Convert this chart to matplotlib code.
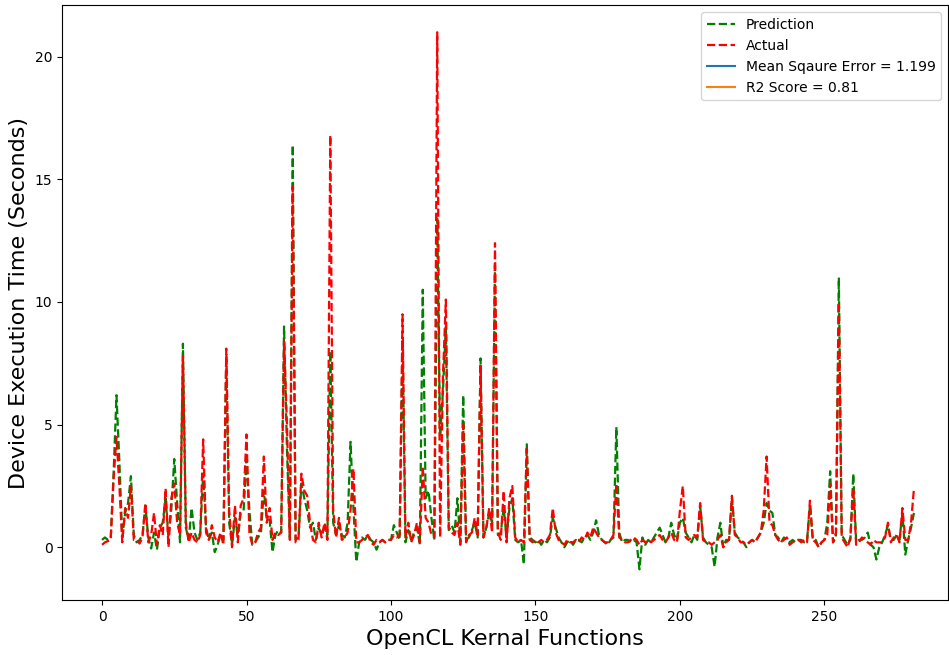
import numpy as np
import matplotlib
matplotlib.use("Agg")
import matplotlib.pyplot as plt


# measured device execution time per kernel (seconds)
actual = [
    0.1, 0.2, 0.25, 0.3, 2.8, 4.5, 2.5, 0.2, 1.6, 1.2,
    2.5, 0.3, 0.3, 0.15, 0.4, 1.8, 0.2, 0.5, 1.4, 0.1,
    0.9, 0.5, 2.4, 0.0, 2.0, 2.6, 1.0, 0.5, 7.8, 1.0,
    0.2, 0.6, 0.3, 0.2, 0.5, 4.4, 0.6, 0.3, 0.9, 0.4,
    0.2, 0.6, 0.1, 8.1, 1.5, 0.0, 1.7, 0.2, 1.7, 2.0,
    4.6, 0.6, 0.1, 0.2, 0.6, 0.8, 3.7, 1.0, 1.6, 0.3,
    0.6, 0.5, 0.6, 8.4, 5.0, 0.3, 14.7, 0.2, 0.3, 3.0,
    2.3, 2.1, 1.0, 0.3, 0.2, 1.0, 0.4, 1.0, 0.3, 16.8,
    1.5, 0.4, 1.2, 0.3, 0.4, 0.6, 1.5, 3.2, 0.2, 0.2,
    0.3, 0.4, 0.5, 0.2, 0.1, 0.3, 0.2, 0.3, 0.2, 0.3,
    0.3, 0.5, 0.4, 0.5, 9.5, 0.4, 1.0, 0.2, 0.5, 1.0,
    0.2, 3.3, 1.2, 1.0, 0.5, 0.4, 21.0, 0.4, 7.0, 10.1,
    0.8, 0.6, 0.5, 1.0, 0.1, 5.0, 0.2, 0.5, 0.6, 1.2,
    0.5, 7.4, 0.4, 0.8, 1.6, 0.6, 12.4, 0.6, 0.3, 2.3,
    0.2, 2.0, 2.5, 0.4, 0.2, 0.3, 0.2, 4.0, 0.3, 0.2,
    0.3, 0.2, 0.3, 0.2, 0.3, 0.5, 1.6, 0.6, 0.3, 0.2,
    0.1, 0.3, 0.2, 0.2, 0.3, 0.2, 0.4, 0.3, 0.6, 0.4,
    0.8, 0.6, 0.4, 0.3, 0.2, 0.2, 0.3, 0.5, 2.6, 0.4,
    0.3, 0.2, 0.2, 0.3, 0.4, 0.3, 0.1, 0.3, 0.2, 0.3,
    0.2, 0.3, 0.4, 0.5, 0.3, 0.2, 0.4, 0.6, 0.3, 0.2,
    1.5, 2.5, 0.4, 0.3, 0.4, 0.5, 0.4, 1.8, 0.3, 0.2,
    0.2, 0.1, 0.2, 0.3, 0.5, 0.0, 0.2, 0.3, 2.1, 0.5,
    0.4, 0.2, 0.2, 0.1, 0.2, 0.3, 0.2, 0.4, 0.6, 1.5,
    3.7, 1.0, 0.9, 0.5, 0.3, 0.2, 0.3, 0.4, 0.1, 0.2,
    0.3, 0.3, 0.2, 0.3, 0.2, 1.9, 0.3, 0.2, 0.0, 0.2,
    0.3, 0.5, 2.6, 0.2, 0.6, 10.0, 0.4, 0.2, 0.0, 0.4,
    2.4, 0.1, 0.2, 0.4, 0.3, 0.2, 0.1, 0.3, 0.2, 0.2,
    0.2, 0.4, 1.0, 0.2, 0.4, 0.5, 0.2, 1.6, 0.3, 0.3,
    1.0, 2.4,
]

# model prediction for the same kernels
prediction = [
    0.3, 0.4, 0.3, 0.35, 3.0, 6.2, 3.5, 0.4, 1.4, 1.8,
    2.9, 0.5, 0.2, 0.3, 0.5, 1.7, 0.4, -0.05, 0.6, -0.1,
    0.8, 1.0, 2.0, 0.4, 1.6, 3.6, 1.8, 0.2, 8.3, 0.8,
    0.3, 1.6, 0.6, 0.3, 0.6, 3.0, 0.8, 0.3, 0.6, -0.2,
    0.1, 0.5, 0.3, 7.8, 1.0, 0.1, 1.2, 0.5, 1.4, 1.5,
    3.6, 1.5, 0.1, 0.2, 0.4, 0.6, 2.3, 1.2, 1.1, -0.2,
    0.5, 0.7, 0.6, 9.0, 4.0, 0.4, 16.4, 0.3, 0.4, 2.6,
    2.0, 1.5, 0.8, 1.0, 0.3, 0.8, 0.5, 0.8, 0.5, 8.0,
    1.0, 0.5, 0.9, 0.5, 0.4, 1.0, 4.3, 1.6, -0.6, 0.2,
    0.4, 0.3, 0.5, 0.3, 0.2, -0.1, 0.2, 0.3, 0.2, 0.3,
    0.3, 0.9, 0.6, 0.3, 8.5, 0.2, 0.7, 0.3, 0.6, 0.8,
    0.1, 10.5, 2.0, 2.3, 1.2, 0.3, 13.4, 4.5, 6.4, 9.0,
    0.7, 0.9, 0.6, 2.0, 0.2, 6.2, 0.3, 0.4, 0.7, 1.0,
    0.4, 7.7, 0.4, 0.8, 1.4, 1.0, 11.5, 0.5, 0.6, 1.6,
    0.4, 1.6, 2.0, 0.3, 0.2, 0.3, -0.7, 4.2, 0.4, 0.3,
    0.2, 0.3, 0.1, 0.3, 0.2, 0.4, 1.2, 0.8, 0.4, 0.2,
    0.0, 0.2, 0.3, 0.1, 0.3, 0.3, 0.2, 0.4, 0.5, 0.3,
    0.6, 1.1, 0.5, 0.3, 0.2, 0.1, 0.3, 0.4, 4.9, 0.6,
    0.2, 0.3, 0.3, 0.2, 0.3, 0.2, -0.9, 0.4, 0.1, 0.3,
    0.2, 0.4, 0.6, 0.8, 0.5, 0.2, 0.4, 1.0, 0.5, 0.3,
    1.0, 1.2, 0.6, 0.4, 0.2, 0.5, 0.3, 1.7, 0.4, 0.2,
    0.1, 0.0, -0.8, 0.4, 1.0, 0.0, 0.3, 0.3, 2.0, 0.6,
    0.4, 0.3, 0.2, 0.0, 0.2, 0.3, 0.2, 0.4, 0.6, 1.0,
    1.8, 1.5, 1.4, 0.5, 0.4, 0.2, 0.4, 0.3, 0.2, 0.3,
    0.2, 0.3, 0.3, 0.2, 0.3, 1.7, 0.3, 0.3, 0.0, 0.2,
    0.3, 1.0, 3.1, 0.2, 0.4, 11.0, 0.5, 0.3, 0.1, 0.3,
    3.0, 0.2, 0.3, 0.3, 0.4, 0.6, 0.1, 0.0, -0.5, 0.0,
    0.2, 0.5, 0.9, 0.3, 0.3, 0.5, 0.3, 1.4, -0.3, 0.3,
    0.8, 1.4,
]

mse_label = 'Mean Sqaure Error = 1.199'
r2_label = 'R2 Score = 0.81'


def plot_results(pred, act):
    fig = plt.figure(figsize=(9.49, 6.55), dpi=100)
    ax = fig.add_axes([0.0655, 0.084, 0.9335, 0.908])

    x = np.arange(len(act))
    ax.plot(x, pred, 'g--', linewidth=1.6, label='Prediction')
    ax.plot(x, act, 'r--', linewidth=1.6, label='Actual')
    # metric entries only show up in the legend
    ax.plot([], [], label=mse_label)
    ax.plot([], [], label=r2_label)

    ax.set_xlim(-13.8, 292.8)
    ax.set_ylim(-2.15, 22.1)
    ax.set_xlabel('OpenCL Kernal Functions', fontsize=16)
    ax.set_ylabel('Device Execution Time (Seconds)', fontsize=16)
    ax.tick_params(labelsize=10)
    ax.legend(loc='upper right', fontsize=10)

    fig.savefig('out.png', dpi=100)


if __name__ == '__main__':
    plot_results(prediction, actual)
